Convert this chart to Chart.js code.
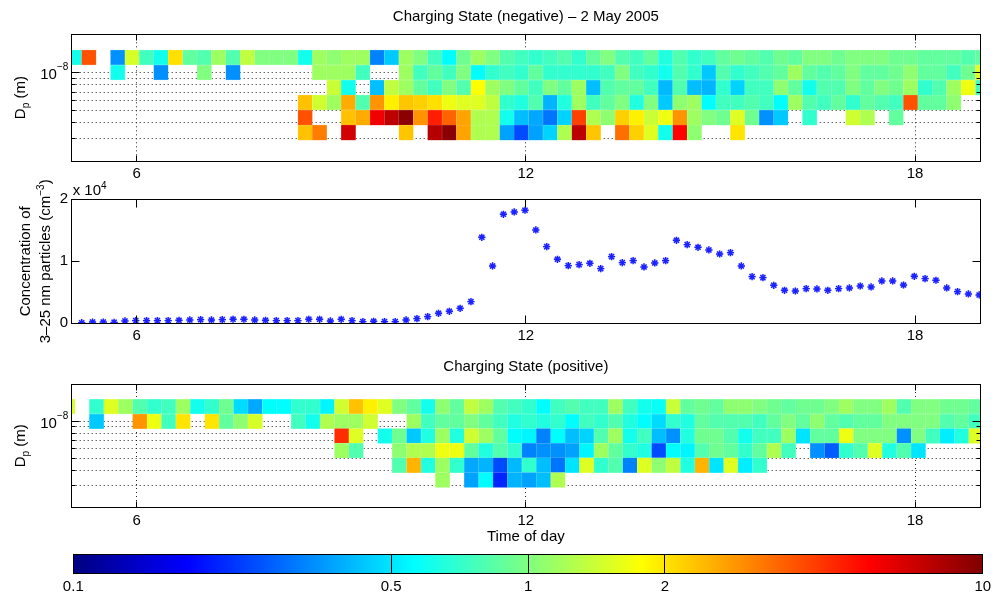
<!DOCTYPE html>
<html>
<head>
<meta charset="utf-8">
<title>Charging State – 2 May 2005</title>
<script src="https://cdn.jsdelivr.net/npm/chart.js@4.4.1/dist/chart.umd.min.js"></script>
<style>
  html, body { margin: 0; padding: 0; background: #fff; }
  #wrap { position: relative; width: 995px; height: 598px; overflow: hidden; }
  #wrap canvas { position: absolute; left: 0; }
</style>
</head>
<body>
<div id="wrap">
  <canvas id="neg"  width="995" height="190" style="top:0"></canvas>
  <canvas id="conc" width="995" height="175" style="top:175px"></canvas>
  <canvas id="pos"  width="995" height="200" style="top:350px"></canvas>
  <canvas id="cbar" width="995" height="50"  style="top:548px"></canvas>
</div>
<script>
// ------------------------------------------------------------
// axes, size bins, colour scale
// ------------------------------------------------------------
const hourRange  = [5, 19];
const hourTicks  = [6, 12, 18];

const dpRange    = [2e-9, 2e-8];
const dpMajor    = [1e-8];
const dpMinor    = [9e-9, 8e-9, 7e-9, 6e-9, 5e-9, 4e-9, 3e-9];
// edges of the six size bins (m), largest first
const dpEdges    = [15.0e-9, 11.45e-9, 8.71e-9, 6.63e-9, 5.05e-9, 3.84e-9, 2.92e-9];

const concRange  = [0, 20000];
const concTicks  = [0, 10000, 20000];

const cbarRange  = [0.1, 10];
const cbarTicks  = [0.1, 0.5, 1, 2, 10];

const _ = null;   // no measurement in this bin

// ------------------------------------------------------------
// charging state, negative ions (scan centres in hours)
// ------------------------------------------------------------
const negTimes = [
  5.043, 5.265, 5.487, 5.710, 5.932, 6.154, 6.376, 6.598, 6.821, 7.043,
  7.265, 7.487, 7.709, 7.932, 8.154, 8.376, 8.598, 8.820, 9.043, 9.265,
  9.487, 9.709, 9.931, 10.154, 10.376, 10.598, 10.820, 11.042, 11.265, 11.487,
  11.709, 11.931, 12.153, 12.376, 12.598, 12.820, 13.042, 13.264, 13.487, 13.709,
  13.931, 14.153, 14.375, 14.598, 14.820, 15.042, 15.264, 15.486, 15.709, 15.931,
  16.153, 16.375, 16.597, 16.820, 17.042, 17.264, 17.486, 17.708, 17.931, 18.153,
  18.375, 18.597, 18.819, 19.042
];
const negRow1 = [
  0.61, 3.9, _, 0.34, 1.48, 0.75, 0.61, 2.05, 0.87, 0.81,
  1.15, 0.81, 1.33, 1.0, 1.0, 1.0, 0.61, 1.15, 1.07, 1.15,
  1.15, 0.32, 0.44, 1.15, 1.0, 0.75, 0.56, 0.93, 1.15, 1.0,
  0.81, 0.75, 0.70, 0.75, 0.81, 0.70, 0.87, 1.0, 0.81, 0.75,
  0.87, 0.65, 0.81, 0.70, 0.75, 0.87, 0.93, 0.87, 0.81, 0.93,
  0.87, 1.0, 1.0, 0.93, 1.0, 1.0, 1.0, 0.93, 0.93, 0.87,
  0.87, 0.87, 0.81, 0.87
];
const negRow2 = [
  _, _, _, 0.61, _, _, 0.34, _, _, 1.0,
  _, 0.34, _, _, _, _, _, 1.15, 1.15, 1.15,
  0.75, _, _, 1.15, 0.75, 0.87, 0.75, 1.0, 0.56, 0.70,
  0.75, 0.70, 0.87, 0.70, 0.70, 0.70, 0.70, 0.75, 1.0, 0.75,
  0.70, 0.61, 0.81, 0.70, 0.44, 0.81, 0.70, 0.75, 0.81, 0.87,
  1.15, 0.87, 0.81, 0.87, 1.0, 0.87, 0.87, 0.93, 1.07, 0.87,
  0.87, 0.75, 0.93, 1.53
];
const negRow3 = [
  _, _, _, _, _, _, _, _, _, _,
  _, _, _, _, _, _, _, _, 1.4, 0.61,
  _, 0.42, 1.33, 1.15, 0.87, 0.75, 1.0, 0.81, 1.78, 1.15,
  1.0, 0.87, 0.75, 1.0, 0.87, 1.15, 0.42, 0.81, 0.87, 0.87,
  0.75, 0.41, 0.81, 0.42, 0.40, 0.70, 0.46, 0.75, 0.75, 1.07,
  0.87, 0.61, 0.81, 0.81, 1.0, 0.87, 1.0, 0.93, 1.15, 0.70,
  0.81, 1.15, 1.65, 0.75
];
const negRow4 = [
  _, _, _, _, _, _, _, _, _, _,
  _, _, _, _, _, _, 2.35, 1.43, 1.15, 2.6,
  0.81, 2.9, 1.9, 2.3, 2.2, 2.05, 1.65, 1.53, 1.53, 1.33,
  0.70, 0.65, 0.81, 0.40, 0.65, 1.15, 0.75, 0.87, 1.0, 0.65,
  1.0, 0.44, 1.07, 1.15, 0.56, 0.75, 0.75, 0.81, 0.75, 0.56,
  1.15, 0.81, 0.75, 0.87, 0.70, 0.87, 0.81, 0.75, 3.9, 0.87,
  0.87, 1.07, _, _
];
const negRow5 = [
  _, _, _, _, _, _, _, _, _, _,
  _, _, _, _, _, _, 3.9, _, _, 2.35,
  2.6, 6.0, 7.6, 9.5, 2.9, 4.9, 3.6, 2.7, 1.24, 1.24,
  0.61, 0.42, 0.38, 0.30, 0.46, 4.2, 1.24, 1.07, 2.2, 1.9,
  1.4, 1.65, 2.9, 1.15, 1.0, 0.93, 1.53, 0.93, 0.34, 0.44,
  _, 0.70, _, _, 1.43, 1.24, _, 0.87, _, _,
  _, _, _, _
];
const negRow6 = [
  _, _, _, _, _, _, _, _, _, _,
  _, _, _, _, _, _, 2.35, 3.2, _, 6.9,
  _, _, _, 2.3, _, 7.9, 9.5, 2.7, 1.24, 1.24,
  0.37, 0.25, 0.37, 0.46, 1.24, 7.6, 2.3, _, 3.4, 2.2,
  1.53, 0.61, 5.6, 1.07, _, _, 2.0, _, _, _,
  _, _, _, _, _, _, _, _, _, _,
  _, _, _, _
];

// ------------------------------------------------------------
// 3-25 nm particle concentration (cm^-3), 10 min steps
// ------------------------------------------------------------
const concTimes = [
  5.154, 5.321, 5.487, 5.654, 5.821, 5.987, 6.154, 6.321, 6.487, 6.654,
  6.821, 6.987, 7.154, 7.321, 7.487, 7.654, 7.821, 7.987, 8.154, 8.321,
  8.487, 8.654, 8.821, 8.987, 9.154, 9.321, 9.487, 9.654, 9.821, 9.987,
  10.154, 10.321, 10.487, 10.654, 10.821, 10.987, 11.154, 11.321, 11.487, 11.654,
  11.821, 11.987, 12.154, 12.321, 12.487, 12.654, 12.821, 12.987, 13.154, 13.321,
  13.487, 13.654, 13.821, 13.987, 14.154, 14.321, 14.487, 14.654, 14.821, 14.987,
  15.154, 15.321, 15.487, 15.654, 15.821, 15.987, 16.154, 16.321, 16.487, 16.654,
  16.821, 16.987, 17.154, 17.321, 17.487, 17.654, 17.821, 17.987, 18.154, 18.321,
  18.487, 18.654, 18.821, 18.987
];
const concValues = [
  100, 200, 200, 150, 380, 430, 430, 430, 430, 480,
  540, 590, 540, 590, 650, 650, 540, 480, 430, 430,
  430, 650, 645, 376, 645, 430, 270, 323, 270, 270,
  538, 753, 1075, 1613, 1935, 2420, 3495, 13870, 9250, 17580,
  17960, 18230, 15060, 12370, 10320, 9300, 9460, 9680, 8820, 10750,
  9790, 10110, 9090, 9730, 10110, 13390, 12690, 12260, 11830, 11180,
  11400, 9250, 7530, 7370, 6130, 5320, 5210, 5590, 5540, 5320,
  5590, 5700, 6020, 5860, 6830, 6830, 6180, 7580, 7200, 6940,
  5700, 5110, 4730, 4570
];

// ------------------------------------------------------------
// charging state, positive ions
// ------------------------------------------------------------
const posTimes = [
  4.940, 5.162, 5.384, 5.607, 5.829, 6.051, 6.273, 6.495, 6.718, 6.940,
  7.162, 7.384, 7.606, 7.829, 8.051, 8.273, 8.495, 8.717, 8.940, 9.162,
  9.384, 9.606, 9.828, 10.051, 10.273, 10.495, 10.717, 10.939, 11.162, 11.384,
  11.606, 11.828, 12.050, 12.273, 12.495, 12.717, 12.939, 13.161, 13.384, 13.606,
  13.828, 14.050, 14.272, 14.495, 14.717, 14.939, 15.161, 15.383, 15.606, 15.828,
  16.050, 16.272, 16.494, 16.717, 16.939, 17.161, 17.383, 17.605, 17.828, 18.050,
  18.272, 18.494, 18.716, 18.939
];
const posRow1 = [
  1.48, _, 0.70, 1.53, 1.15, 0.81, 0.70, 0.75, 1.15, 0.61,
  0.70, 0.93, 0.48, 0.38, 0.56, 0.56, 0.70, 0.70, 0.54, 1.43,
  2.35, 1.9, 1.53, 1.0, 0.87, 0.61, 1.07, 0.87, 1.33, 1.15,
  0.81, 0.75, 0.70, 0.56, 0.75, 0.81, 0.75, 0.75, 1.15, 0.75,
  0.61, 0.58, 1.38, 0.87, 0.93, 0.87, 1.07, 1.07, 1.0, 0.93,
  0.87, 0.93, 0.93, 1.0, 1.15, 1.0, 1.0, 1.15, 0.81, 1.0,
  1.0, 0.93, 0.93, 0.87
];
const posRow2 = [
  _, _, 0.44, _, _, 2.9, 1.65, 0.75, 2.0, _,
  2.0, 0.87, 1.07, 1.48, _, _, 0.75, 0.61, 1.24, 1.15,
  1.15, 1.43, _, _, 1.15, 0.75, 0.87, 0.87, 1.0, 0.87,
  0.75, 0.65, 0.70, 0.65, 0.70, 0.56, 0.75, 0.70, 0.81, 0.65,
  0.56, 0.48, 0.70, 0.65, 0.87, 0.81, 0.81, 0.81, 0.75, 0.87,
  1.0, 0.87, 1.07, 0.87, 0.81, 0.87, 0.87, 1.0, 1.0, 1.0,
  1.0, 0.81, 0.87, 0.75
];
const posRow3 = [
  _, _, _, _, _, _, _, _, _, _,
  _, _, _, _, _, _, _, _, _, 4.6,
  1.53, _, 0.61, 0.93, 0.44, 0.65, 1.15, 0.65, 1.43, 1.15,
  0.87, 0.56, 0.54, 0.32, 0.56, 0.42, 0.46, 0.81, 1.15, 0.61,
  0.75, 0.42, 0.34, 0.65, 0.93, 0.93, 0.81, 0.61, 0.75, 0.75,
  1.15, 0.50, 0.87, 0.87, 1.65, 1.0, 1.0, 1.0, 0.34, 1.0,
  0.75, 0.52, 0.65, 1.53
];
const posRow4 = [
  _, _, _, _, _, _, _, _, _, _,
  _, _, _, _, _, _, _, _, _, 1.15,
  0.81, _, _, 1.07, 1.24, 1.24, 1.65, 1.65, 0.87, 0.65,
  0.81, 0.70, 0.32, 0.34, 0.34, 0.37, 0.54, 1.15, 0.87, 0.70,
  0.65, 0.25, 0.56, 0.54, 0.81, 0.93, 0.87, 0.70, 0.87, 1.24,
  0.75, _, 0.34, 0.27, 0.70, 0.81, 1.53, 0.65, 0.81, 0.50,
  _, _, _, _
];
const posRow5 = [
  _, _, _, _, _, _, _, _, _, _,
  _, _, _, _, _, _, _, _, _, _,
  _, _, _, 0.81, 2.5, 0.65, 1.15, 0.70, 0.38, 0.40,
  0.25, 0.41, 0.70, 0.42, 0.30, 0.50, 1.53, 0.70, 0.81, 0.32,
  1.53, 1.07, 1.33, 0.65, 2.5, 0.50, 1.53, 0.52, 0.70, _,
  _, _, _, _, _, _, _, _, _, _,
  _, _, _, _
];
const posRow6 = [
  _, _, _, _, _, _, _, _, _, _,
  _, _, _, _, _, _, _, _, _, _,
  _, _, _, _, _, _, 1.15, _, 0.37, 0.56,
  0.21, 0.40, 0.37, 0.42, 1.24, _, _, _, _, _,
  _, _, _, _, _, _, _, _, _, _,
  _, _, _, _, _, _, _, _, _, _,
  _, _, _, _
];

// ------------------------------------------------------------
// helpers
// ------------------------------------------------------------
const FONT = '"Liberation Sans", Arial, Helvetica, sans-serif';
Chart.defaults.font.family = FONT;
Chart.defaults.font.size = 15;
Chart.defaults.color = '#000';
Chart.defaults.animation = false;
Chart.defaults.events = [];
Chart.defaults.plugins.legend.display = false;
Chart.defaults.plugins.tooltip.enabled = false;

function jetRGB(p) {
  const c = k => Math.round(255 * Math.min(1, Math.max(0, 1.5 - Math.abs(4 * p - k))));
  return [c(3), c(2), c(1)];
}
function jetPos(v) {
  const lo = Math.log10(cbarRange[0]), hi = Math.log10(cbarRange[1]);
  return Math.min(1, Math.max(0, (Math.log10(v) - lo) / (hi - lo)));
}
function jet(v) {
  const [r, g, b] = jetRGB(jetPos(v));
  return `rgb(${r},${g},${b})`;
}
function jetEdge(v) {
  const [r, g, b] = jetRGB(jetPos(v)).map(c => Math.round(c + (255 - c) * 0.35));
  return `rgb(${r},${g},${b})`;
}

function cells(times, rows) {
  const out = [];
  rows.forEach((row, r) => row.forEach((v, j) => {
    if (v !== null) out.push({ x: times[j], y: [dpEdges[r + 1], dpEdges[r]], v });
  }));
  return out;
}

const crisp = v => Math.round(v - 0.5) + 0.5;

// text with sub/superscripts, optionally turned for a y label
function richText(ctx, parts, x, y, opts = {}) {
  const { rotate = false, align = 'center', size = 15, supScale = 0.68, supRaise = 0.42 } = opts;
  ctx.save();
  ctx.translate(x, y);
  if (rotate) ctx.rotate(-Math.PI / 2);
  ctx.fillStyle = '#000';
  ctx.textBaseline = 'alphabetic';
  ctx.textAlign = 'left';
  const fontOf = p => `${(p.sub || p.sup) ? Math.round(size * supScale) : size}px ${FONT}`;
  const widths = parts.map(p => { ctx.font = fontOf(p); return ctx.measureText(p.t).width; });
  const total = widths.reduce((a, b) => a + b, 0);
  let cx = align === 'center' ? -total / 2 : align === 'right' ? -total : 0;
  parts.forEach((p, i) => {
    ctx.font = fontOf(p);
    const dy = p.sub ? size * 0.27 : p.sup ? -size * supRaise : 0;
    ctx.fillText(p.t, cx, dy);
    cx += widths[i];
  });
  ctx.restore();
}

// box, inward ticks and dotted grid drawn on the chart's own scales
function axesBox(o) {
  return {
    id: 'axesBox',
    beforeDatasetsDraw(chart) {
      if (!o.gridX && !o.gridY) return;
      const { ctx, chartArea: a, scales } = chart;
      ctx.save();
      ctx.beginPath();
      ctx.rect(a.left, a.top, a.width, a.height);
      ctx.clip();
      ctx.strokeStyle = '#222';
      ctx.lineWidth = 1;
      ctx.setLineDash([1, 3]);
      ctx.beginPath();
      (o.gridX || []).forEach(v => {
        const px = crisp(scales.x.getPixelForValue(v));
        ctx.moveTo(px, a.top); ctx.lineTo(px, a.bottom);
      });
      (o.gridY || []).forEach(v => {
        const py = crisp(scales.y.getPixelForValue(v));
        ctx.moveTo(a.left, py); ctx.lineTo(a.right, py);
      });
      ctx.stroke();
      ctx.restore();
    },
    afterDatasetsDraw(chart) {
      const { ctx, chartArea: a, scales } = chart;
      const L = crisp(a.left), R = crisp(a.right), T = crisp(a.top), B = crisp(a.bottom);
      ctx.save();
      ctx.strokeStyle = '#000';
      ctx.lineWidth = 1;
      ctx.beginPath();
      (o.ticksX || []).forEach(v => {
        const px = crisp(scales.x.getPixelForValue(v));
        ctx.moveTo(px, T); ctx.lineTo(px, T + o.lenX);
        ctx.moveTo(px, B); ctx.lineTo(px, B - o.lenX);
      });
      (o.ticksY || []).forEach(v => {
        const py = crisp(scales.y.getPixelForValue(v));
        ctx.moveTo(L, py); ctx.lineTo(L + o.lenY, py);
        ctx.moveTo(R, py); ctx.lineTo(R - o.lenY, py);
      });
      (o.minorY || []).forEach(v => {
        const py = crisp(scales.y.getPixelForValue(v));
        ctx.moveTo(L, py); ctx.lineTo(L + o.lenMinor, py);
        ctx.moveTo(R, py); ctx.lineTo(R - o.lenMinor, py);
      });
      ctx.stroke();
      ctx.strokeRect(L, T, R - L, B - T);
      ctx.restore();
    }
  };
}

const noGrid = { display: false, drawTicks: false };
const noBorder = { display: false };

function hourAxis(height, title) {
  return {
    type: 'linear', min: hourRange[0], max: hourRange[1], offset: false,
    grid: noGrid, border: noBorder,
    ticks: { padding: 4, autoSkip: false, maxRotation: 0, callback: v => String(v) },
    afterBuildTicks: s => { s.ticks = hourTicks.map(v => ({ value: v })); },
    afterFit: s => { s.height = height; },
    title: title
      ? { display: true, text: title, font: { size: 15 }, padding: { top: 0, bottom: 4 } }
      : { display: false }
  };
}

// ------------------------------------------------------------
// size-resolved charging state panels
// ------------------------------------------------------------
function heatChart(id, titleText, times, rows, xHeight, xTitle) {
  return new Chart(document.getElementById(id), {
    type: 'bar',
    data: {
      datasets: [{
        data: cells(times, rows),
        backgroundColor: c => c.raw ? jet(c.raw.v) : 'transparent',
        borderColor: c => c.raw ? jetEdge(c.raw.v) : 'transparent',
        borderWidth: 0.5,
        borderSkipped: false,
        barPercentage: 1,
        categoryPercentage: 1,
        clip: 0
      }]
    },
    options: {
      responsive: false,
      devicePixelRatio: 1,
      layout: { padding: { left: 0, right: 15, top: 0, bottom: 0 } },
      plugins: {
        title: {
          display: true, text: titleText, fullSize: false, color: '#000',
          font: { size: 15, weight: 'normal' },
          padding: { top: 8, bottom: id === 'neg' ? 8.3 : 8 }
        }
      },
      scales: {
        x: hourAxis(xHeight, xTitle),
        y: {
          type: 'logarithmic', min: dpRange[0], max: dpRange[1], beginAtZero: false,
          grid: noGrid, border: noBorder,
          ticks: { display: false },
          afterBuildTicks: s => { s.ticks = dpMajor.map(v => ({ value: v })); },
          afterFit: s => { s.width = 71.7; }
        }
      }
    },
    plugins: [
      axesBox({
        gridX: hourTicks, gridY: dpMajor.concat(dpMinor),
        ticksX: hourTicks, lenX: 6,
        ticksY: dpMajor, lenY: 8,
        minorY: dpMinor, lenMinor: 4
      }),
      {
        id: 'dpLabels',
        afterDraw(chart) {
          const { ctx, chartArea: a, scales: { y } } = chart;
          // power-of-ten tick labels
          dpMajor.forEach(v => {
            const exp = Math.round(Math.log10(v));
            richText(ctx, [{ t: '10' }, { t: '\u2212' + Math.abs(exp), sup: true }],
              68.3, y.getPixelForValue(v) + 6.6,
              { align: 'right', supScale: 0.66, supRaise: 0.6 });
          });
          richText(ctx, [{ t: 'D' }, { t: 'p', sub: true }, { t: ' (m)' }],
            25, (a.top + a.bottom) / 2, { rotate: true });
        }
      }
    ]
  });
}

heatChart('neg', 'Charging State (negative) \u2013 2 May 2005', negTimes,
  [negRow1, negRow2, negRow3, negRow4, negRow5, negRow6], 29);

heatChart('pos', 'Charging State (positive)', posTimes,
  [posRow1, posRow2, posRow3, posRow4, posRow5, posRow6], 42.3, 'Time of day');

// ------------------------------------------------------------
// concentration panel
// ------------------------------------------------------------
const concPoints = concTimes.map((t, i) => ({ x: t, y: concValues[i] }));

new Chart(document.getElementById('conc'), {
  type: 'scatter',
  data: {
    datasets: [
      {
        data: concPoints, pointStyle: 'circle', pointRadius: 3.4,
        pointBackgroundColor: 'rgba(90,110,255,0.30)', pointBorderWidth: 0
      },
      {
        data: concPoints, pointStyle: 'star', pointRadius: 3.6,
        pointBorderColor: '#0000ff', pointBackgroundColor: '#0000ff', pointBorderWidth: 1.4
      }
    ]
  },
  options: {
    responsive: false,
    devicePixelRatio: 1,
    layout: { padding: { left: 0, right: 15, top: 24.3, bottom: 0 } },
    scales: {
      x: hourAxis(26.7),
      y: {
        type: 'linear', min: concRange[0], max: concRange[1],
        grid: noGrid, border: noBorder,
        ticks: { padding: 3.5, autoSkip: false, callback: v => String(v / 10000) },
        afterBuildTicks: s => { s.ticks = concTicks.map(v => ({ value: v })); },
        afterFit: s => { s.width = 71.7; }
      }
    }
  },
  plugins: [
    axesBox({ ticksX: hourTicks, lenX: 8, ticksY: concTicks, lenY: 8 }),
    {
      id: 'concLabels',
      afterDraw(chart) {
        const { ctx, chartArea: a } = chart;
        const mid = (a.top + a.bottom) / 2;
        richText(ctx, [{ t: 'Concentration of' }], 30, mid, { rotate: true });
        richText(ctx, [{ t: '3\u201325 nm particles (cm' }, { t: '\u22123', sup: true }, { t: ')' }],
          50, mid, { rotate: true });
        richText(ctx, [{ t: 'x 10' }, { t: '4', sup: true }], 72.7, 20, { align: 'left' });
      }
    }
  ]
});

// ------------------------------------------------------------
// colour bar (log scale, jet)
// ------------------------------------------------------------
const jetStops = [0, 0.125, 0.375, 0.625, 0.875, 1];

new Chart(document.getElementById('cbar'), {
  type: 'bar',
  data: {
    labels: [''],
    datasets: [{
      data: [cbarRange],
      backgroundColor: c => {
        const chart = c.chart;
        if (!chart.chartArea) return 'transparent';
        const xs = chart.scales.x;
        const g = chart.ctx.createLinearGradient(
          xs.getPixelForValue(cbarRange[0]), 0, xs.getPixelForValue(cbarRange[1]), 0);
        jetStops.forEach(p => {
          const [r, gg, b] = jetRGB(p);
          g.addColorStop(p, `rgb(${r},${gg},${b})`);
        });
        return g;
      },
      borderWidth: 0,
      barPercentage: 1,
      categoryPercentage: 1
    }]
  },
  options: {
    indexAxis: 'y',
    responsive: false,
    devicePixelRatio: 1,
    layout: { padding: { left: 73.3, right: 11.7, top: 6.3, bottom: 0 } },
    scales: {
      x: {
        type: 'logarithmic', min: cbarRange[0], max: cbarRange[1],
        grid: noGrid, border: noBorder,
        ticks: { padding: 3.8, autoSkip: false, maxRotation: 0, callback: v => String(v) },
        afterBuildTicks: s => { s.ticks = cbarTicks.map(v => ({ value: v })); },
        afterFit: s => { s.height = 24.3; }
      },
      y: { display: false }
    }
  },
  plugins: [axesBox({ ticksX: cbarTicks, lenX: 19.4 })]
});
</script>
</body>
</html>
